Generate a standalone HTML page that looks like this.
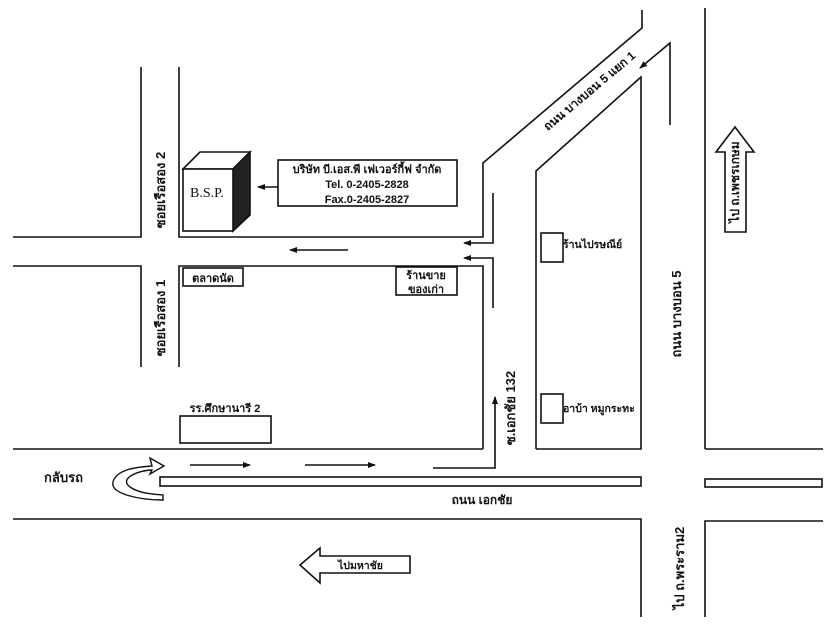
<!DOCTYPE html>
<html><head><meta charset="utf-8">
<style>
html,body{margin:0;padding:0;background:#fff;}
svg{display:block;}
text{font-family:"Liberation Sans","DejaVu Sans",sans-serif;font-weight:bold;fill:#111;}
</style></head>
<body>
<svg width="840" height="630" viewBox="0 0 840 630" xmlns="http://www.w3.org/2000/svg">
<defs>
<marker id="ah" markerWidth="8" markerHeight="8" refX="7" refY="4" orient="auto" markerUnits="userSpaceOnUse">
<path d="M0,1 L8,4 L0,7 Z" fill="#111"/></marker>
</defs>
<g fill="none" stroke="#111" stroke-width="1.6">
<polyline points="141,67 141,237 13,237"/>
<polyline points="179,67 179,237 483,237 483,163 642,28 642,10"/>
<polyline points="13,266 141,266 141,367"/>
<polyline points="179,367 179,266 483,266 483,449"/>
<polyline points="536,449 536,171 641,77 641,449 536,449"/>
<line x1="705" y1="8" x2="705" y2="449"/>
<line x1="705" y1="449" x2="823" y2="449"/>
<line x1="13" y1="449" x2="483" y2="449"/>
<rect x="160" y="477" width="481" height="9"/>
<rect x="705" y="479" width="117" height="8"/>
<polyline points="13,519 641,519 641,617"/>
<polyline points="823,521 705,521 705,617"/>
<polyline points="493,193 493,243 464,243" marker-end="url(#ah)"/>
<polyline points="493,308 493,258 464,258" marker-end="url(#ah)"/>
<line x1="348" y1="250" x2="290" y2="250" marker-end="url(#ah)"/>
<line x1="278" y1="187" x2="258" y2="187" marker-end="url(#ah)"/>
<polyline points="670,125 670,43 640,68" marker-end="url(#ah)"/>
<line x1="190" y1="465" x2="250" y2="465" marker-end="url(#ah)"/>
<line x1="305" y1="465" x2="375" y2="465" marker-end="url(#ah)"/>
<polyline points="433,468 495,468 495,397" marker-end="url(#ah)"/>
<rect x="278" y="160" width="179" height="46"/>
<rect x="183" y="268" width="60" height="18"/>
<rect x="396" y="267" width="61" height="28"/>
<rect x="180" y="416" width="91" height="27"/>
<rect x="541" y="233" width="22" height="29"/>
<rect x="541" y="394" width="22" height="29"/>
<path d="M725,232 L725,152 L716,152 L735,127 L754,152 L746,152 L746,232 Z"/>
</g>
<path d="M320,548 L300,565 L320,583 L320,573 L410,573 L410,556 L320,556 Z" fill="#fff" stroke="#111" stroke-width="1.6"/>
<path d="M150,458 L164,466 L150,474 L152,470 C140,470 118,478 130,487 C140,494 155,494 163,495 L163,500 C140,500 110,494 113,482 C116,470 135,467 152,466 Z" fill="#fff" stroke="#111" stroke-width="1.4"/>
<g stroke="#111" stroke-width="1.6">
<path d="M183,169 L200,152 L250,152 L233,169 Z" fill="#fff"/>
<path d="M233,169 L250,152 L250,215 L233,231 Z" fill="#222"/>
<rect x="183" y="169" width="50" height="62" fill="#fff"/>
</g>
<text x="190" y="197" style="font-family:'Liberation Serif',serif;font-weight:normal;font-size:14px">B.S.P.</text>
<g font-size="11" text-anchor="middle">
<text x="367" y="173">บริษัท บี.เอส.พี เฟเวอร์กี้ฟ จำกัด</text>
<text x="367" y="188">Tel. 0-2405-2828</text>
<text x="367" y="203">Fax.0-2405-2827</text>
<text x="213" y="282">ตลาดนัด</text>
<text x="426" y="279">ร้านขาย</text>
<text x="426" y="293">ของเก่า</text>
<text x="225" y="412">รร.ศึกษานารี 2</text>
</g>
<text x="482" y="504" font-size="12" text-anchor="middle">ถนน เอกชัย</text>
<g font-size="10.5">
<text x="563" y="248">ร้านไปรษณีย์</text>
<text x="563" y="412">อาบ้า หมูกระทะ</text>
<text x="338" y="569">ไปมหาชัย</text>
</g>
<text x="44" y="482" font-size="13">กลับรถ</text>
<g font-size="13" text-anchor="middle">
<text transform="translate(165,190) rotate(-90)">ซอยเรือสอง 2</text>
<text transform="translate(165,318) rotate(-90)">ซอยเรือสอง 1</text>
<text transform="translate(515,408) rotate(-90)">ซ.เอกชัย 132</text>
<text transform="translate(681,314) rotate(-90)">ถนน บางบอน 5</text>
<text transform="translate(739,182) rotate(-90)" font-size="12">ไป ถ.เพชรเกษม</text>
<text transform="translate(684,568) rotate(-90)">ไป ถ.พระราม2</text>
<text transform="translate(592,94) rotate(-40)" font-size="12">ถนน บางบอน 5 แยก 1</text>
</g>
</svg>
</body></html>
